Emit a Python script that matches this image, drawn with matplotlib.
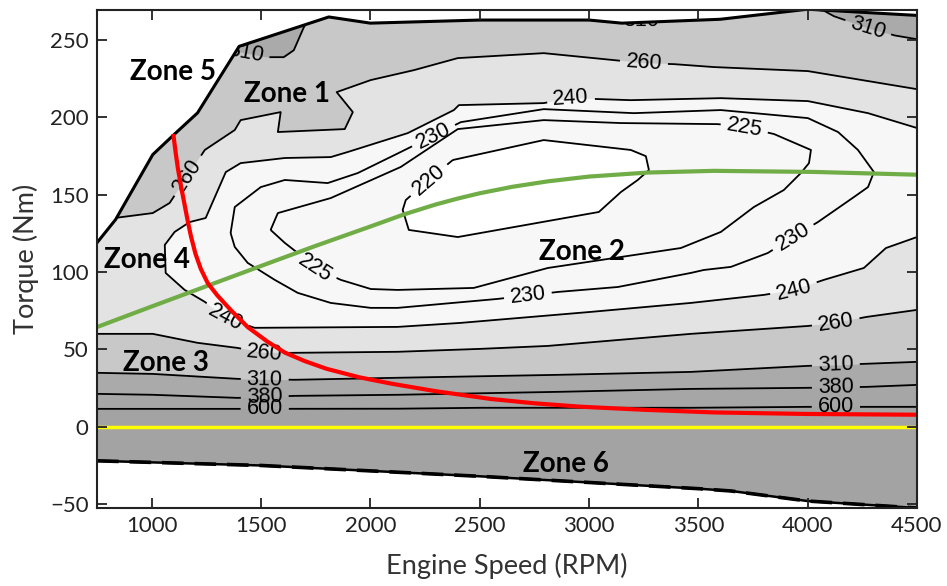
import numpy as np
import matplotlib
matplotlib.use("Agg")
import matplotlib.pyplot as plt
from matplotlib.contour import ContourSet
from matplotlib.patches import Polygon, PathPatch
from matplotlib.path import Path

plt.rcParams['font.family'] = ['Liberation Sans', 'DejaVu Sans']

# ---------------- data ----------------
# full-load torque curve (upper edge of the operating envelope)
wot_rpm = [750, 835, 1005, 1095, 1210, 1400, 1810, 2000, 2500, 3000, 3150, 3600, 4000, 4500]
wot_torque = [119, 134, 176, 188, 203, 246, 265, 261, 263, 263, 261, 263.5, 270, 266]

# motoring torque curve (lower edge of the envelope)
mot_rpm = [750, 1000, 1500, 2000, 2500, 3000, 3500, 3650, 4000, 4500]
mot_torque = [-22, -23, -25, -28.5, -32, -36, -40, -41.5, -48, -52.5]

# BSFC iso-lines (g/kWh)
bsfc_levels = [220, 225, 230, 240, 260, 310, 380, 600]

c220_rpm = [2377, 2793, 3191, 3260, 3274, 3223, 3146, 3045, 2400, 2176, 2148, 2162, 2267, 2377]
c220_trq = [172.5, 185.4, 179, 175, 166, 159.6, 151.8, 138.9, 122.7, 127.3, 140.2, 146.6, 159.6, 172.5]

c225_rpm = [1544, 1577, 1819, 2139, 2400, 2793, 3146, 3590, 3708, 3846, 4015, 4006, 3969, 3891,
            3754, 3603, 3420, 3146, 2812, 2473, 2125, 2002, 1865, 1746, 1668, 1609, 1544]
c225_trq = [127.3, 138.2, 147.9, 168, 192.5, 198.3, 196.4, 195.7, 193.8, 189.3, 179, 170.5, 164.1, 153.1,
            142.1, 126, 115.6, 109.8, 102.7, 89.8, 88.5, 89.1, 95, 102.7, 112.4, 118.9, 127.3]

c230_rpm = [1361, 1380, 1499, 1609, 1805, 1943, 2139, 2414, 2793, 3205, 3603, 4001, 4139, 4230, 4303,
            4276, 4212, 4047, 3933, 3818, 3649, 3525, 3466, 3132, 2858, 2583, 2125, 2002, 1819, 1668,
            1563, 1439, 1380, 1361]
c230_trq = [125.3, 142.1, 155, 159.6, 157.6, 164.1, 177.7, 197, 205.4, 202.8, 204.8, 199.6, 190.6, 179, 164.7,
            155, 148.6, 132.4, 122.7, 112.4, 103.4, 101.4, 99.5, 90.4, 87.2, 82.7, 76.9, 76.9, 80.1, 86.6,
            95, 106, 116.3, 125.3]

c240_rpm = [4500, 4276, 4001, 3603, 3191, 2917, 2793, 2405, 2382, 2171, 1897, 1819, 1609, 1407, 1339,
            1247, 1174, 1105, 1060, 1064, 1151, 1243, 1339, 1471, 2125, 2414, 3008, 3466, 3800, 3937,
            4074, 4257, 4358, 4500]
c240_trq = [193.2, 202.8, 210.6, 212.5, 211.2, 212.5, 209.3, 208, 204.8, 189.9, 177.7, 174.4, 173.8, 170.5, 164.7,
            135, 132.4, 126, 117.6, 99.5, 88.5, 80.8, 70.4, 64, 64.6, 67.2, 74.3, 80.1, 85.3, 88.5,
            95, 102.7, 115.6, 122.7]

c260lo_rpm = [750, 1005, 1210, 1393, 1517, 1622, 2125, 2505, 2812, 3466, 4001, 4129, 4267, 4500]
c260lo_trq = [60.1, 60.1, 54.3, 51, 47.8, 47.8, 48.5, 50.4, 52.3, 60.1, 65.2, 67.2, 71, 75.6]

c260up_rpm = [830, 1005, 1082, 1165, 1243, 1380, 1407, 1590, 1577, 1883, 1920, 1846, 2002, 2199,
              2400, 2793, 3114, 3251, 3388, 3571, 4001, 4500]
c260up_trq = [135, 138.2, 144.7, 162.4, 179, 191.9, 198.3, 203.5, 190.6, 192.5, 203.5, 216.4, 224.2, 230.6,
              238.4, 241.6, 237.1, 235.1, 234.5, 232.6, 230, 218.3]

c310lo_rpm = [750, 1005, 1393, 1654, 2125, 2858, 3466, 4001, 4129, 4500]
c310lo_trq = [34.9, 34.2, 31, 30.4, 31.7, 33.6, 35.5, 39.4, 40, 42]

c310up_rpm = [1380, 1531, 1604, 1650, 1696, 1740, 2000, 2500, 3000, 3237, 3500, 3900, 4075, 4120,
              4276, 4400, 4500]
c310up_trq = [243, 239, 239, 243.5, 258.4, 268, 269, 268, 265, 262.5, 265, 272, 269, 265.5,
              257.8, 253, 250.6]

c380_rpm = [750, 1005, 1393, 1654, 2125, 2858, 3466, 4001, 4267, 4500]
c380_trq = [21.3, 20.7, 18.7, 20, 20.7, 22.6, 24.5, 25.2, 25.8, 27.1]

c600_rpm = [750, 1393, 2125, 2505, 3466, 4001, 4500]
c600_trq = [11.6, 11.6, 11.7, 12.3, 12.3, 12.9, 12.9]

# where each iso-line carries its value
label_spots = [(2267, 159.6),
               (1746, 102.7), (3708, 191.9),
               (2290, 188), (2720, 85.3), (3933, 122.7),
               (1339, 70.4), (2917, 212.5), (3937, 88.5),
               (1165, 162.4), (1517, 47.8), (3251, 235.1), (4129, 67.2),
               (1517, 30.4), (4129, 39.8), (4276, 257.8), (1430, 241), (3237, 262.5),
               (1517, 20), (4129, 25.6),
               (1517, 11.6), (4129, 12.9)]

# operating lines
red_rpm = [1100, 1110, 1120, 1135, 1150, 1165, 1180, 1200, 1225, 1256, 1300, 1361, 1439, 1530, 1609,
           1700, 1800, 1950, 2100, 2300, 2551, 2750, 2962, 3250, 3571, 4000, 4500]
red_trq = [188, 177, 167, 155, 144, 133, 123, 112, 102, 93, 85, 75.6, 64.5, 55, 48,
           42.5, 37.5, 32, 27.8, 23, 18, 15.2, 13, 11, 9.3, 8.3, 7.8]

green_rpm = [750, 1000, 1250, 1500, 1750, 2000, 2153, 2300, 2400, 2500, 2650, 2811, 3000, 3269,
             3571, 4028, 4500]
green_trq = [64.5, 77.8, 90.9, 104, 117, 129.5, 137.3, 143.8, 147.6, 151, 155.2, 158.7, 161.8, 164.4,
             165.5, 164.8, 163]

zone_names = ['Zone 1', 'Zone 2', 'Zone 3', 'Zone 4', 'Zone 5', 'Zone 6']
zone_rpm = [1618, 2967, 1064, 977, 1096, 2894]
zone_trq = [215.1, 113, 41.3, 107.9, 229.3, -23.9]

# ---------------- figure ----------------
fig = plt.figure(figsize=(9.47, 5.86), dpi=100)
ax = fig.add_axes([97 / 947, 1 - 508 / 586, (917 - 97) / 947, (508 - 10) / 586])

env_xy = np.column_stack([np.r_[wot_rpm, mot_rpm[::-1]], np.r_[wot_torque, mot_torque[::-1]]])
env = Polygon(env_xy, closed=True, facecolor='none', edgecolor='none')
ax.add_patch(env)


def inside(artist):
    artist.set_clip_path(env)
    return artist


XL, XR, YB, YT = 600, 4700, -120, 320
band = {'lt220': '#ffffff', '220_240': '#f7f7f7', '240_260': '#e3e3e3',
        '260_310': '#c8c8c8', '310_380': '#aaaaaa', '380_600': '#a6a6a6', 'gt600': '#a3a3a3'}

for p in ax.fill([XL, XR, XR, XL], [YB, YB, YT, YT], color=band['260_310'], lw=0):
    inside(p)
inside(ax.fill_between(c310up_rpm, c310up_trq, YT, color=band['310_380'], lw=0))
inside(ax.fill_between(c310lo_rpm, c310lo_trq, YB, color=band['310_380'], lw=0))
inside(ax.fill_between(c380_rpm, c380_trq, YB, color=band['380_600'], lw=0))
inside(ax.fill_between(c600_rpm, c600_trq, YB, color=band['gt600'], lw=0))

lt260_x = list(c260lo_rpm) + list(c260up_rpm[::-1]) + [700, 700]
lt260_y = list(c260lo_trq) + list(c260up_trq[::-1]) + [c260up_trq[0], c260lo_trq[0]]
for p in ax.fill(lt260_x, lt260_y, color=band['240_260'], lw=0):
    inside(p)
for xs, ys, key in [(c240_rpm, c240_trq, '220_240'), (c230_rpm, c230_trq, '220_240'),
                    (c225_rpm, c225_trq, '220_240'), (c220_rpm, c220_trq, 'lt220')]:
    for p in ax.fill(xs, ys, color=band[key], lw=0):
        inside(p)

segs = [[np.column_stack([c220_rpm, c220_trq])],
        [np.column_stack([c225_rpm, c225_trq])],
        [np.column_stack([c230_rpm, c230_trq])],
        [np.column_stack([c240_rpm, c240_trq])],
        [np.column_stack([c260lo_rpm, c260lo_trq]), np.column_stack([c260up_rpm, c260up_trq])],
        [np.column_stack([c310lo_rpm, c310lo_trq]), np.column_stack([c310up_rpm, c310up_trq])],
        [np.column_stack([c380_rpm, c380_trq])],
        [np.column_stack([c600_rpm, c600_trq])]]

ax.set_xlim(750, 4500)
ax.set_ylim(-52.5, 269.5)

cs = ContourSet(ax, bsfc_levels, segs, colors='black', linewidths=1.3)
cs.set_clip_path(env)
ax.set_xlim(750, 4500)
ax.set_ylim(-52.5, 269.5)
ax.clabel(cs, manual=label_spots, inline=True, inline_spacing=6, fmt='%d', fontsize=15.5,
          zorder=3)

# white outside the operating envelope (hides line and label parts beyond it)
outer = np.array([[XL, YB], [XR, YB], [XR, YT], [XL, YT], [XL, YB]], float)
ring = env_xy.copy()
area = 0.5 * np.sum(ring[:, 0] * np.roll(ring[:, 1], -1) - np.roll(ring[:, 0], -1) * ring[:, 1])
if area > 0:
    ring = ring[::-1]
ring = np.vstack([ring, ring[:1]])
verts = np.vstack([outer, ring])
codes = ([Path.MOVETO] + [Path.LINETO] * 3 + [Path.CLOSEPOLY] +
         [Path.MOVETO] + [Path.LINETO] * (len(ring) - 2) + [Path.CLOSEPOLY])
ax.add_patch(PathPatch(Path(verts, codes), facecolor='white', edgecolor='none', zorder=3.5))

ax.plot(wot_rpm, wot_torque, color='black', lw=2.2, zorder=4)
ax.plot(mot_rpm, mot_torque, color='black', lw=1.8, zorder=4)
ax.plot(mot_rpm, mot_torque, color='black', lw=2.6, dashes=(6, 3), zorder=4)
ax.plot([750, 4500], [0, 0], color='#ffff00', lw=2.5, zorder=4)
ax.plot(green_rpm, green_trq, color='#70ad47', lw=3, zorder=5)
ax.plot(red_rpm, red_trq, color='#ff0000', lw=3, zorder=6)

for name, x, y in zip(zone_names, zone_rpm, zone_trq):
    ax.text(x, y, name, ha='center', va='center', fontsize=20, fontweight='bold',
            family='Lato', zorder=8)

ax.set_xticks(range(1000, 4501, 500))
ax.set_yticks(range(-50, 251, 50))
ax.tick_params(direction='in', length=7, width=1.3, top=True, right=True,
               labelsize=16, pad=6, colors='#222222')
for lab in ax.get_xticklabels() + ax.get_yticklabels():
    lab.set_family('Lato')
    lab.set_color('#222222')
for s in ax.spines.values():
    s.set_linewidth(1.5)
    s.set_color('#222222')
    s.set_zorder(9)
ax.xaxis.set_zorder(9.5)
ax.yaxis.set_zorder(9.5)

ax.set_xlabel('Engine Speed (RPM)', fontsize=19.5, family='Lato', color='#333333', labelpad=12)
ax.set_ylabel('Torque (Nm)', fontsize=19.5, family='Lato', color='#333333', labelpad=8)

fig.savefig('out.png', dpi=100)
